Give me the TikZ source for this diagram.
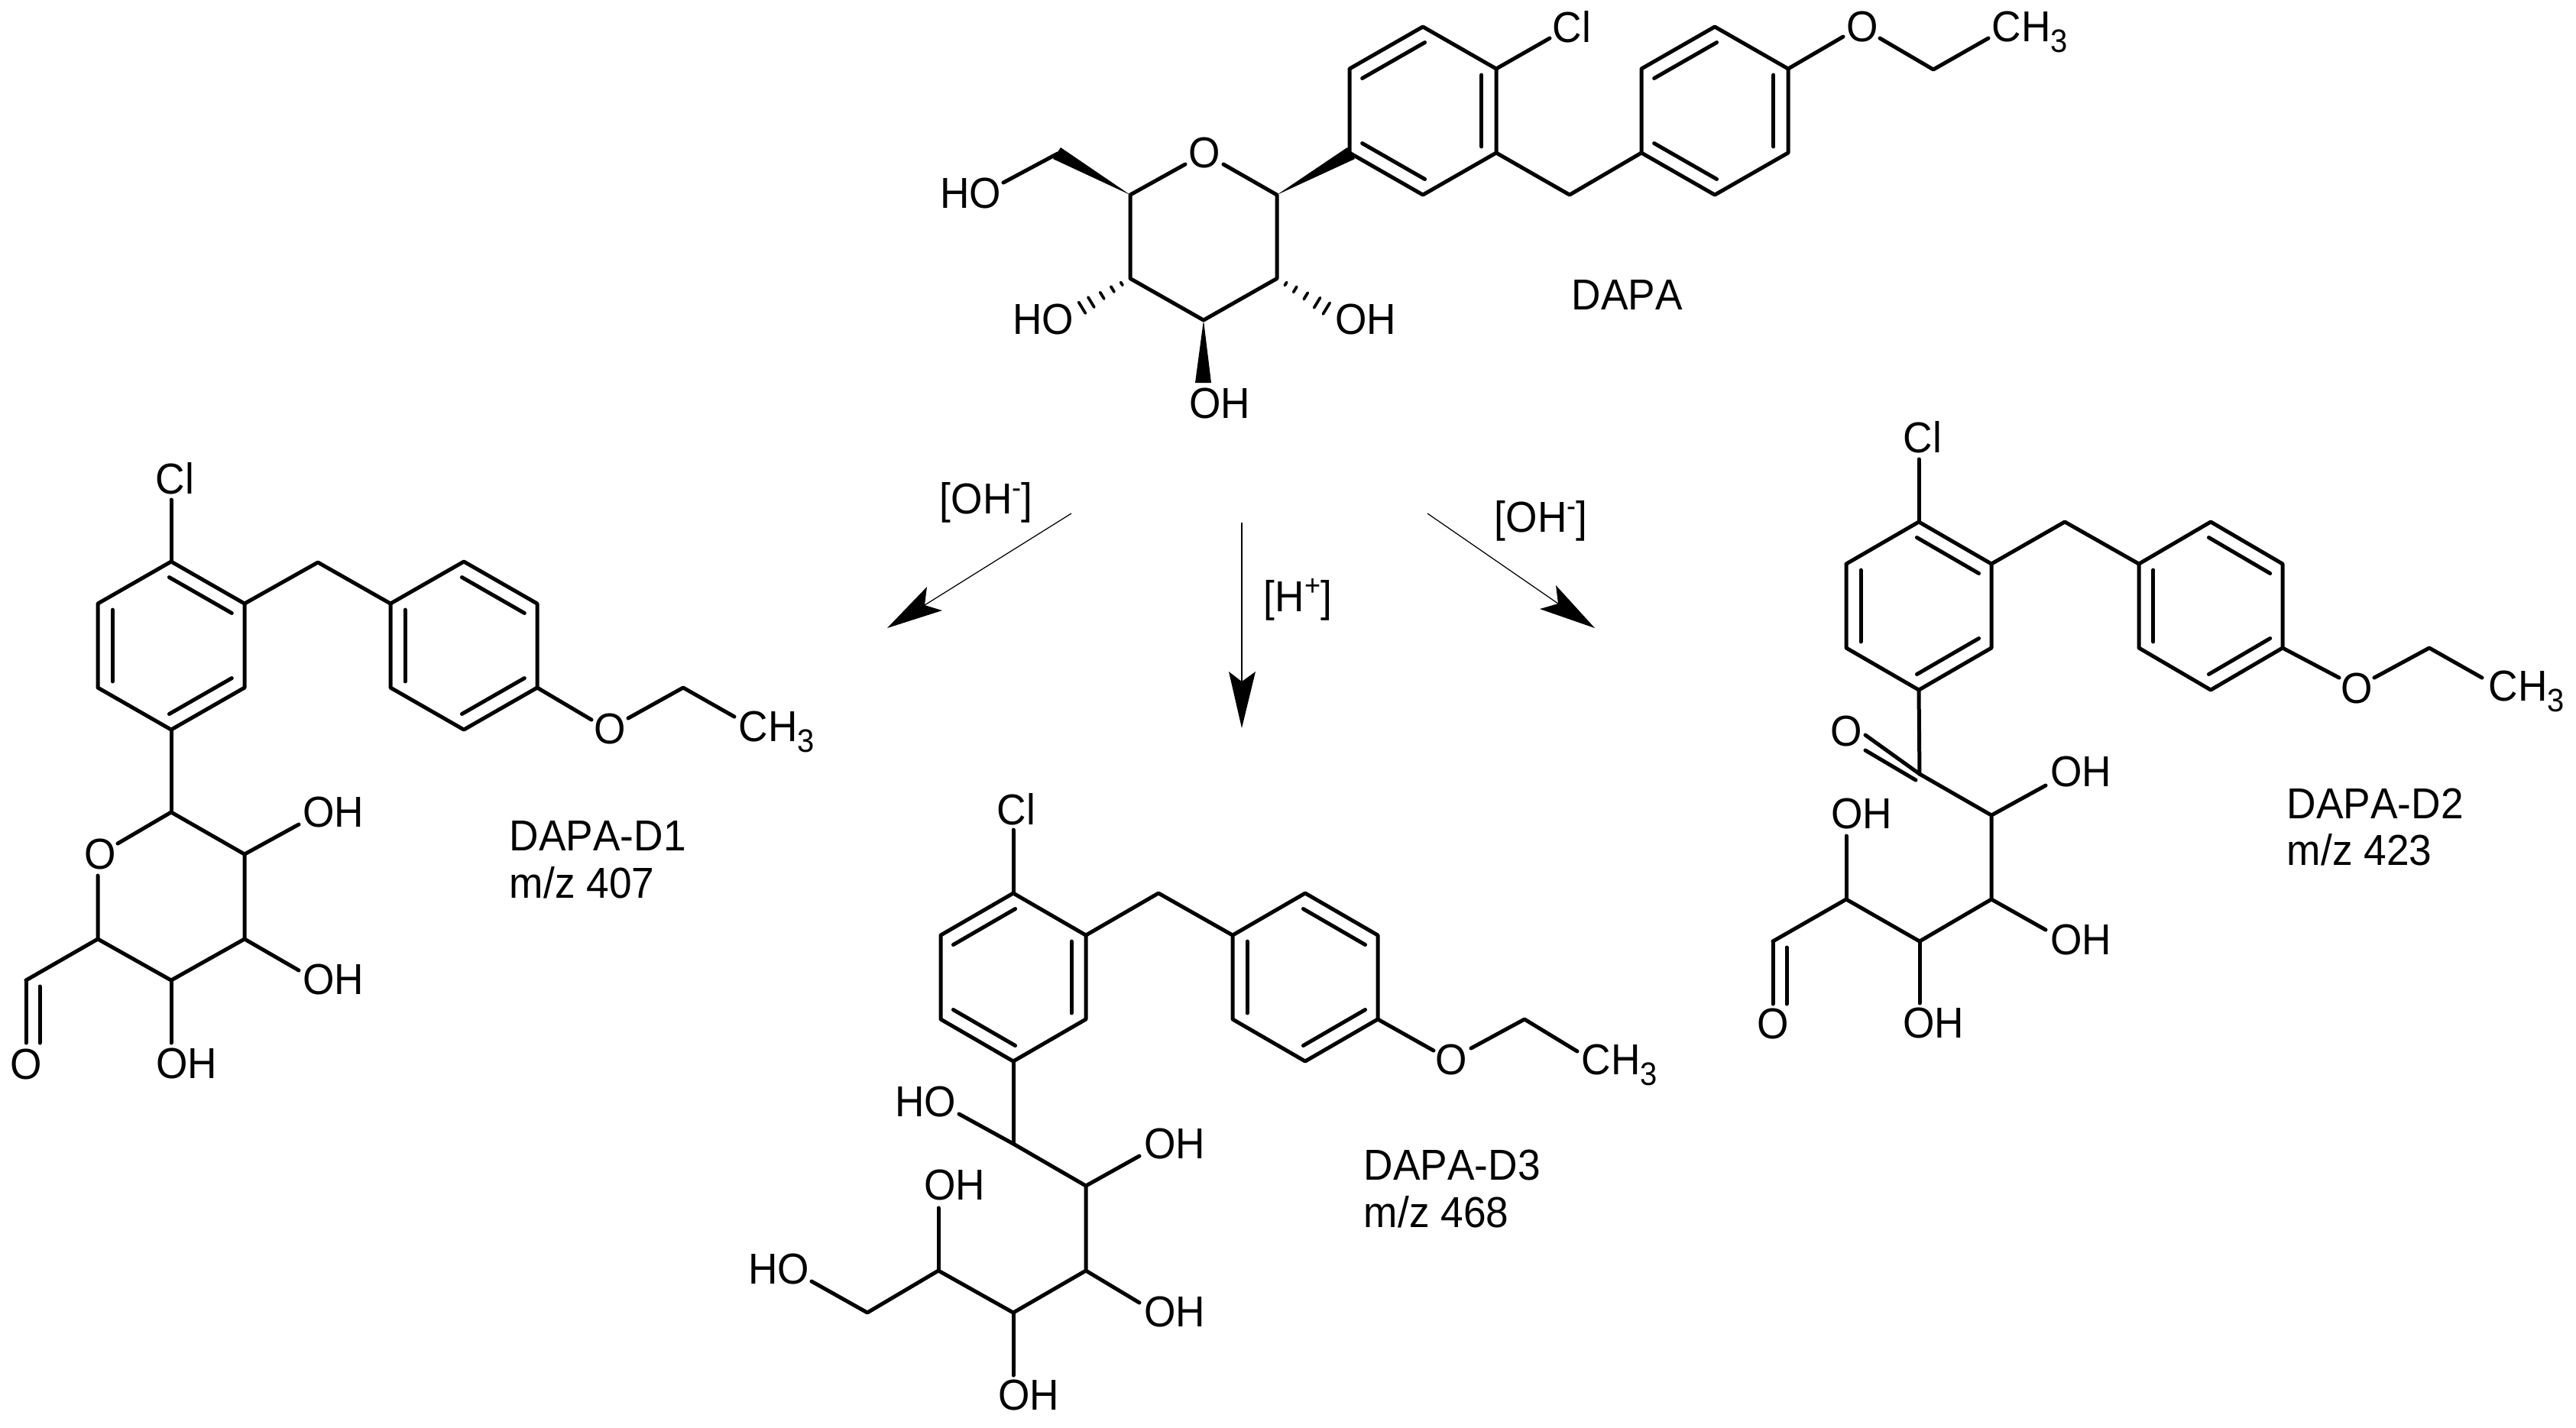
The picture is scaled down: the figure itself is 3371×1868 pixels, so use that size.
\documentclass[tikz,border=0pt]{standalone}
\usepackage{fontspec}
\setmainfont[FakeStretch=0.94,Kerning=Off]{Liberation Sans}
\usetikzlibrary{calc}
\tikzset{
  bond/.style={line width=1.2pt,line cap=round,line join=round},
  inbond/.style={bond,shorten <=-0.7pt,shorten >=-0.7pt},
  hashline/.style={line width=0.9pt,line cap=round},
  rxnline/.style={line width=0.3pt},
  atom/.style={inner sep=0pt,font=\fontsize{13.6pt}{16pt}\selectfont},
  lbl/.style={inner sep=0pt,anchor=base west,font=\fontsize{13.6pt}{16pt}\selectfont}
}
\newcommand{\subthree}{\raisebox{-3.4pt}{\fontsize{10.2pt}{11pt}\selectfont 3}}
\newcommand{\supch}[1]{\raisebox{5pt}{\fontsize{9.2pt}{10pt}\selectfont #1}}
% ring: prefix, cx, cy, half width, mode (A or B)
\newcommand{\dblin}[3]{\draw[inbond] ($(#1)!.2!(#3)$) -- ($(#2)!.2!(#3)$);}
\newcommand{\phring}[5]{%
  \coordinate (#1c) at (#2,#3);
  \coordinate (#1t) at (#2,#3-110);
  \coordinate (#1ur) at (#2+#4,#3-55);
  \coordinate (#1lr) at (#2+#4,#3+55);
  \coordinate (#1b) at (#2,#3+110);
  \coordinate (#1ll) at (#2-#4,#3+55);
  \coordinate (#1ul) at (#2-#4,#3-55);
  \draw[bond] (#1t) -- (#1ur) -- (#1lr) -- (#1b) -- (#1ll) -- (#1ul) -- cycle;
  \if#5A
    \dblin{#1t}{#1ur}{#1c}\dblin{#1lr}{#1b}{#1c}\dblin{#1ul}{#1ll}{#1c}
  \else
    \dblin{#1t}{#1ul}{#1c}\dblin{#1ur}{#1lr}{#1c}\dblin{#1b}{#1ll}{#1c}
  \fi}
\newcommand{\hashb}[2]{%
  \foreach \t/\h in {.16/0.55,.33/1.0,.525/1.2,.73/1.85,.90/2.05}
    \draw[hashline] ($(#1)!\t!(#2)!\h pt!90:(#2)$) -- ($(#1)!\t!(#2)!\h pt!-90:(#2)$);}
\begin{document}
\begin{tikzpicture}[x=0.24pt,y=-0.24pt]
\useasboundingbox (0,0) rectangle (3371,1868);
%% DAPA
\phring{pa}{1862}{145}{96}{B}
\phring{pb}{2244}{145}{96}{B}
\coordinate (su5) at (1479,255);
\coordinate (su1) at (1671,255);
\coordinate (su2) at (1671,364.5);
\coordinate (su3) at (1575,419);
\coordinate (su4) at (1479,364.5);
\node[atom] (suO) at (1576,200) {O};
\coordinate (suOl) at (1551,215);
\coordinate (suOr) at (1601,215);
\draw[bond] (suOl) -- (su5) -- (su4) -- (su3) -- (su2) -- (su1) -- (suOr);
\coordinate (suCH) at (1384,201);
\coordinate (w5a) at (1388,193);
\coordinate (w5b) at (1378,208);
\coordinate (w1a) at (1763,193);
\coordinate (w1b) at (1773,208);
\coordinate (w3a) at (1564,501);
\coordinate (w3b) at (1585,501);
\fill (su5) -- (w5a) -- (w5b) -- cycle;
\fill (su1) -- (w1a) -- (w1b) -- cycle;
\fill (su3) -- (w3a) -- (w3b) -- cycle;
\node[atom] (suHO) at (1270,253) {HO};
\coordinate (suHOe) at (1313,239);
\draw[bond] (suCH) -- (suHOe);
\node[atom] (su4OH) at (1365,418) {HO};
\node[atom] (su2OH) at (1787,418) {OH};
\node[atom] (su3OH) at (1596,528) {OH};
\coordinate (h4e) at (1409,407);
\coordinate (h2e) at (1743,408);
\hashb{su4}{h4e}
\hashb{su2}{h2e}
\node[atom] (paCl) at (2057,35) {Cl};
\coordinate (paCle) at (2028,50);
\draw[bond] (paur) -- (paCle);
\coordinate (paCH) at (2054,255);
\draw[bond] (palr) -- (paCH) -- (pbll);
\node[atom] (paO) at (2437,35) {O};
\coordinate (paOa) at (2412,48);
\coordinate (paOb) at (2460,50);
\coordinate (paE) at (2530,91);
\coordinate (paMe) at (2602,50);
\draw[bond] (pbur) -- (paOa);
\draw[bond] (paOb) -- (paE) -- (paMe);
\node[lbl] (paCH3) at (2606,54) {CH\subthree};
\node[lbl] (nameA) at (2056,405) {DAPA};
%% D1
\phring{ba}{224}{845}{96}{A}
\phring{bb}{607}{845}{96}{A}
\node[atom] (bCl) at (229,626) {Cl};
\coordinate (bCle) at (224,654);
\draw[bond] (bat) -- (bCle);
\coordinate (bCH) at (416,736);
\draw[bond] (baur) -- (bCH) -- (bbul);
\node[atom] (bO) at (798,954) {O};
\coordinate (bOa) at (774,942);
\coordinate (bOb) at (822,940);
\coordinate (bE) at (894,900);
\coordinate (bMe) at (961,938);
\draw[bond] (bblr) -- (bOa);
\draw[bond] (bOb) -- (bE) -- (bMe);
\node[lbl] (bCH3) at (966,970) {CH\subthree};
\coordinate (bs1) at (224,1063);
\coordinate (bs2) at (320,1118);
\coordinate (bs3) at (320,1229);
\coordinate (bs4) at (224,1283);
\coordinate (bs5) at (128,1229);
\coordinate (bCHO) at (34,1283);
\node[atom] (bRO) at (131,1118) {O};
\coordinate (bROa) at (154,1104);
\coordinate (bROb) at (128,1146);
\draw[bond] (bab) -- (bs1);
\draw[bond] (bROa) -- (bs1) -- (bs2) -- (bs3) -- (bs4) -- (bs5) -- (bROb);
\draw[bond] (bs5) -- (bCHO);
\node[atom] (bAO) at (34,1393) {O};
\coordinate (bAe) at (34,1365);
\coordinate (bAi) at (52,1291);
\coordinate (bAj) at (52,1365);
\draw[bond] (bCHO) -- (bAe);
\draw[bond] (bAi) -- (bAj);
\node[atom] (bOH1) at (436,1063) {OH};
\node[atom] (bOH2) at (436,1282) {OH};
\node[atom] (bOH3) at (244,1392) {OH};
\coordinate (bOH1e) at (391,1079);
\coordinate (bOH2e) at (391,1270);
\coordinate (bOH3e) at (224,1365);
\draw[bond] (bs2) -- (bOH1e);
\draw[bond] (bs3) -- (bOH2e);
\draw[bond] (bs4) -- (bOH3e);
\node[lbl] (nameB) at (666,1113) {DAPA-D1};
\node[lbl] (mzB) at (666,1175) {m/z 407};
%% D3
\phring{ca}{1326}{1279}{95}{B}
\phring{cb}{1708}{1279}{95}{A}
\node[atom] (cCl) at (1330,1059) {Cl};
\coordinate (cCle) at (1326,1086);
\draw[bond] (cat) -- (cCle);
\coordinate (cCH) at (1516,1169);
\draw[bond] (caur) -- (cCH) -- (cbul);
\node[atom] (cO) at (1899,1387) {O};
\coordinate (cOa) at (1876,1375);
\coordinate (cOb) at (1925,1372);
\coordinate (cE) at (1995,1334);
\coordinate (cMe) at (2064,1376);
\draw[bond] (cblr) -- (cOa);
\draw[bond] (cOb) -- (cE) -- (cMe);
\node[lbl] (cCH3) at (2069,1406) {CH\subthree};
\coordinate (cs1) at (1326,1497);
\coordinate (cs2) at (1421,1552);
\coordinate (cs3) at (1421,1663);
\coordinate (cs4) at (1326,1718);
\coordinate (cs5) at (1228,1663);
\coordinate (cs6) at (1135,1718);
\draw[bond] (cab) -- (cs1);
\node[atom] (cHO1) at (1211,1442) {HO};
\coordinate (cHO1e) at (1255,1458);
\coordinate (cOH2e) at (1491,1513);
\coordinate (cOH3e) at (1491,1705);
\coordinate (cOH4e) at (1326,1800);
\coordinate (cOH5e) at (1228,1581);
\coordinate (cHO6e) at (1062,1677);
\draw[bond] (cHO1e) -- (cs1) -- (cs2) -- (cs3) -- (cs4) -- (cs5) -- (cs6) -- (cHO6e);
\node[atom] (cOH2) at (1537,1497) {OH};
\node[atom] (cOH3) at (1537,1717) {OH};
\node[atom] (cOH4) at (1346,1826) {OH};
\node[atom] (cOH5) at (1249,1551) {OH};
\node[atom] (cHO6) at (1019,1661) {HO};
\draw[bond] (cs2) -- (cOH2e);
\draw[bond] (cs3) -- (cOH3e);
\draw[bond] (cs4) -- (cOH4e);
\draw[bond] (cs5) -- (cOH5e);
\node[lbl] (nameC) at (1784,1544) {DAPA-D3};
\node[lbl] (mzC) at (1784,1606) {m/z 468};
%% D2
\phring{da}{2511}{793}{95}{A}
\phring{db}{2893}{793}{94}{A}
\node[atom] (dCl) at (2516,572) {Cl};
\coordinate (dCle) at (2511,601);
\draw[bond] (dat) -- (dCle);
\coordinate (dCH) at (2702,683);
\draw[bond] (daur) -- (dCH) -- (dbul);
\node[atom] (dO) at (3084,901) {O};
\coordinate (dOa) at (3061,887);
\coordinate (dOb) at (3107,887);
\coordinate (dE) at (3179,848);
\coordinate (dMe) at (3248,887);
\draw[bond] (dblr) -- (dOa);
\draw[bond] (dOb) -- (dE) -- (dMe);
\node[lbl] (dCH3) at (3256,917) {CH\subthree};
\coordinate (ds1) at (2512,1013);
\coordinate (ds2) at (2606,1067);
\coordinate (ds3) at (2606,1177);
\coordinate (ds4) at (2512,1232);
\coordinate (ds5) at (2416,1177);
\coordinate (ds6) at (2320,1232);
\draw[bond] (dab) -- (ds1);
\draw[bond] (ds1) -- (ds2) -- (ds3) -- (ds4) -- (ds5) -- (ds6);
\node[atom] (dKO) at (2416,957) {O};
\coordinate (dKa) at (2441,962);
\coordinate (dKb) at (2441,982);
\coordinate (dKc) at (2507,1021);
\draw[bond] (dKa) -- (ds1);
\draw[bond] (dKb) -- (dKc);
\node[atom] (dOH2) at (2723,1010) {OH};
\node[atom] (dOH3) at (2723,1230) {OH};
\node[atom] (dOH4) at (2530,1339) {OH};
\node[atom] (dOH5) at (2436,1065) {OH};
\coordinate (dOH2e) at (2677,1028);
\coordinate (dOH3e) at (2677,1217);
\coordinate (dOH4e) at (2512,1313);
\coordinate (dOH5e) at (2416,1094);
\draw[bond] (ds2) -- (dOH2e);
\draw[bond] (ds3) -- (dOH3e);
\draw[bond] (ds4) -- (dOH4e);
\draw[bond] (ds5) -- (dOH5e);
\node[atom] (dAO) at (2320,1340) {O};
\coordinate (dAe) at (2320,1314);
\coordinate (dAi) at (2338,1240);
\coordinate (dAj) at (2338,1314);
\draw[bond] (ds6) -- (dAe);
\draw[bond] (dAi) -- (dAj);
\node[lbl] (nameD) at (2992,1071) {DAPA-D2};
\node[lbl] (mzD) at (2992,1132) {m/z 423};
%% reaction arrows
\coordinate (r1s) at (1402,672);
\coordinate (r1t) at (1161,822);
\coordinate (r1a) at (1213,768);
\coordinate (r1b) at (1233,799);
\coordinate (r1n) at (1210,792);
\coordinate (r2s) at (1625,684);
\coordinate (r2t) at (1625,953);
\coordinate (r2a) at (1608,879);
\coordinate (r2b) at (1643,879);
\coordinate (r2n) at (1625,892);
\coordinate (r3s) at (1868,672);
\coordinate (r3t) at (2087,822);
\coordinate (r3a) at (2036,766);
\coordinate (r3b) at (2015,797);
\coordinate (r3n) at (2039,790);
\draw[rxnline] (r1s) -- (r1n);
\draw[rxnline] (r2s) -- (r2n);
\draw[rxnline] (r3s) -- (r3n);
\fill (r1t) -- (r1a) -- (r1n) -- (r1b) -- cycle;
\fill (r2t) -- (r2a) -- (r2n) -- (r2b) -- cycle;
\fill (r3t) -- (r3a) -- (r3n) -- (r3b) -- cycle;
\node[lbl] (cond1) at (1229,672) {[OH\supch{-}]};
\node[lbl] (cond2) at (1653,800) {[H\supch{+}]};
\node[lbl] (cond3) at (1955,696) {[OH\supch{-}]};
\end{tikzpicture}
\end{document}
